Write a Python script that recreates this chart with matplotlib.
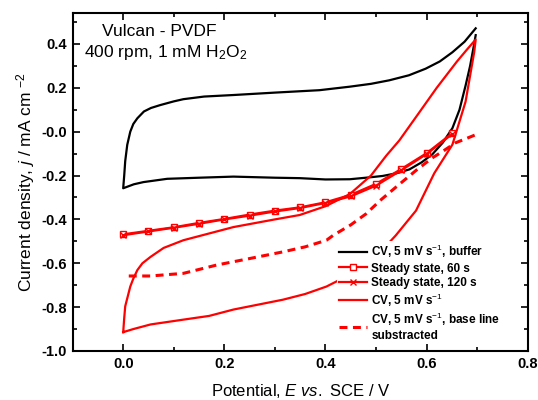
import numpy as np
import matplotlib.pyplot as plt

plt.rcParams['font.family'] = ['Liberation Sans', 'DejaVu Sans']
plt.rcParams['mathtext.fontset'] = 'custom'
plt.rcParams['mathtext.rm'] = 'Liberation Sans'
plt.rcParams['mathtext.it'] = 'Liberation Sans:italic'
plt.rcParams['mathtext.bf'] = 'Liberation Sans:bold'

# CV in buffer (black), lower branch then upper branch
buf_x = [0.697, 0.694, 0.686, 0.677, 0.665, 0.651, 0.632, 0.611, 0.59, 0.566, 0.54, 0.513,
         0.48, 0.448, 0.40, 0.349, 0.30, 0.218, 0.15, 0.087, 0.04, 0.021, 0.0,
         0.002, 0.004, 0.008, 0.014, 0.02, 0.028, 0.041, 0.055, 0.073, 0.10, 0.119, 0.16,
         0.218, 0.30, 0.388, 0.448, 0.49, 0.526, 0.565, 0.598, 0.626, 0.651, 0.675, 0.697]
buf_y = [0.44, 0.40, 0.30, 0.21, 0.10, 0.016, -0.05, -0.104, -0.14, -0.172, -0.19, -0.202,
         -0.21, -0.217, -0.218, -0.212, -0.21, -0.205, -0.21, -0.215, -0.23, -0.24, -0.258,
         -0.20, -0.134, -0.06, 0.0, 0.035, 0.061, 0.092, 0.108, 0.121, 0.138, 0.148, 0.16,
         0.167, 0.178, 0.189, 0.205, 0.218, 0.234, 0.257, 0.287, 0.32, 0.362, 0.41, 0.471]

# CV with H2O2 (red), lower branch then return branch
cv_x = [0.0, 0.02, 0.054, 0.119, 0.17, 0.218, 0.316, 0.36, 0.402, 0.45, 0.50, 0.539, 0.579,
        0.615, 0.651, 0.677, 0.694, 0.697,
        0.68, 0.66, 0.62, 0.58, 0.546, 0.52, 0.49, 0.448, 0.40, 0.349, 0.30, 0.218, 0.119,
        0.08, 0.054, 0.038, 0.028, 0.02, 0.014, 0.008, 0.004, 0.002, 0.0]
cv_y = [-0.914, -0.90, -0.879, -0.857, -0.84, -0.811, -0.766, -0.74, -0.706, -0.65, -0.57,
        -0.473, -0.36, -0.19, -0.059, 0.137, 0.362, 0.42,
        0.375, 0.32, 0.20, 0.07, -0.04, -0.11, -0.20, -0.285, -0.34, -0.38, -0.40, -0.435,
        -0.495, -0.53, -0.571, -0.60, -0.631, -0.67, -0.706, -0.76, -0.796, -0.85, -0.914]

# CV, base line subtracted (red dashed)
bl_x = [0.011, 0.054, 0.119, 0.185, 0.251, 0.316, 0.36, 0.402, 0.415, 0.45, 0.48, 0.51,
        0.546, 0.58, 0.611, 0.635, 0.657, 0.68, 0.697]
bl_y = [-0.658, -0.658, -0.646, -0.608, -0.578, -0.548, -0.525, -0.495, -0.473, -0.425,
        -0.375, -0.31, -0.24, -0.175, -0.12, -0.085, -0.051, -0.03, -0.014]

# steady state points
ss_x = [0.0, 0.05, 0.1, 0.15, 0.2, 0.25, 0.3, 0.35, 0.4, 0.45, 0.5, 0.55, 0.6, 0.65]
ss60_y = [-0.468, -0.452, -0.436, -0.416, -0.398, -0.378, -0.36, -0.345, -0.322, -0.288,
          -0.238, -0.17, -0.098, -0.008]
ss120_y = [-0.472, -0.455, -0.438, -0.420, -0.400, -0.383, -0.364, -0.348, -0.325, -0.295,
           -0.246, -0.176, -0.102, -0.012]

fig = plt.figure(figsize=(5.38, 4.0), dpi=100)
ax = fig.add_axes([0.135, 0.1225, 0.846, 0.8445])

red = '#ff0000'
ax.plot(buf_x, buf_y, color='black', lw=1.6, label='CV, 5 mV s$^{-1}$, buffer')
ax.plot(ss_x, ss60_y, color=red, lw=1.6, marker='s', ms=5, mfc='white', mec=red, mew=1.0,
        label='Steady state, 60 s')
ax.plot(ss_x, ss120_y, color=red, lw=1.6, marker='x', ms=5, mec=red, mew=1.0,
        label='Steady state, 120 s')
ax.plot(cv_x, cv_y, color=red, lw=1.6, label='CV, 5 mV s$^{-1}$')
ax.plot(bl_x, bl_y, color=red, lw=2.2, ls=(0, (2.6, 1.8)),
        label='CV, 5 mV s$^{-1}$, base line\nsubstracted')

ax.set_xlim(-0.1, 0.8)
ax.set_ylim(-1.0, 0.54)
ax.set_xticks(np.arange(0.0, 0.81, 0.2))
ax.set_yticks(np.arange(-1.0, 0.41, 0.2))
ax.set_xticks(np.arange(-0.1, 0.81, 0.1), minor=True)
ax.set_yticks(np.arange(-1.0, 0.55, 0.1), minor=True)
ax.xaxis.set_major_formatter(plt.FormatStrFormatter('%.1f'))
ax.yaxis.set_major_formatter(plt.FormatStrFormatter('%.1f'))
ax.tick_params(which='both', direction='in', top=True, right=True, width=1.2)
ax.tick_params(which='major', length=5, labelsize=10.5, pad=4)
ax.tick_params(which='minor', length=3)
for lab in ax.get_xticklabels() + ax.get_yticklabels():
    lab.set_fontweight('bold')
for sp in ax.spines.values():
    sp.set_linewidth(1.5)

ax.set_xlabel('Potential, $E$ $vs.$ SCE / V', fontsize=12, labelpad=8)
ax.set_ylabel('Current density, $j$ / mA cm $^{-2}$', fontsize=12.5, labelpad=3)

ax.text(0.19, 0.945, 'Vulcan - PVDF', transform=ax.transAxes, ha='center', va='center',
        fontsize=12.5)
ax.text(0.205, 0.885, '400 rpm, 1 mM H$_2$O$_2$', transform=ax.transAxes, ha='center',
        va='center', fontsize=12.5)

leg = ax.legend(loc='lower left', bbox_to_anchor=(0.58, 0.02), frameon=True, fancybox=False,
                framealpha=1.0, edgecolor='none', facecolor='white',
                prop={'size': 8.5, 'weight': 'bold'}, handlelength=2.4, handletextpad=0.35,
                labelspacing=0.2, borderpad=0.2, borderaxespad=0.0)

fig.savefig('out.png', dpi=100)
